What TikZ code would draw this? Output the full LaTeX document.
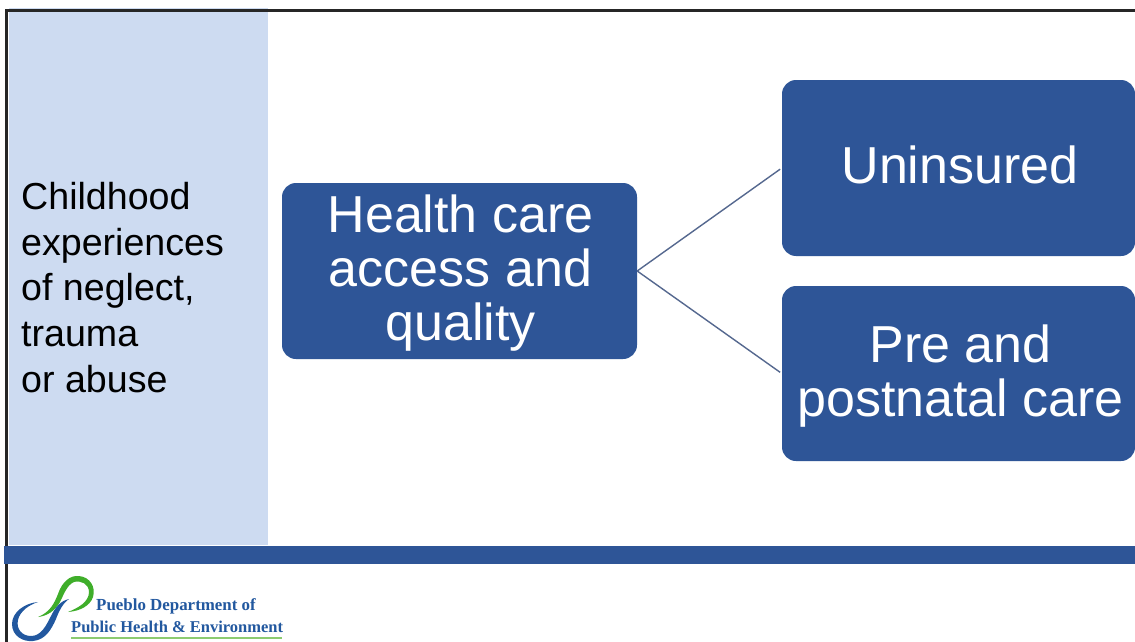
\documentclass[tikz,border=0pt]{standalone}
\usepackage{fontspec}
\setmainfont{Liberation Sans}
\newfontfamily\logofont{Liberation Serif}
\definecolor{boxblue}{HTML}{2E5597}
\definecolor{panelblue}{HTML}{CDDBF1}
\definecolor{linkgray}{HTML}{55688F}
\definecolor{logogreen}{HTML}{3FAE2A}
\definecolor{logoblue}{HTML}{22589F}
\definecolor{rulegreen}{HTML}{8CCB70}
\tikzset{
  px/.style={x=1pt,y=-1pt},
  bluebox/.style={fill=boxblue,draw=none,rounded corners=14pt,inner sep=0pt,anchor=center},
  boxtext/.style={text=white,align=center,font=\fontsize{52}{54}\selectfont,inner sep=0pt},
  linkline/.style={draw=linkgray,line width=1.4pt,shorten >=2pt},
  sidetext/.style={align=left,anchor=west,inner sep=0pt,text=black,
    font=\fontsize{37.6}{45.6}\selectfont},
  logotext/.style={anchor=west,inner sep=0pt,text=logoblue,font=\logofont\bfseries}
}
\begin{document}
\begin{tikzpicture}[px]
\useasboundingbox (0,0) rectangle (1135,642);
\fill[white] (0,0) rectangle (1135,642);
\fill[panelblue] (9,8) rectangle (268,545);
\draw[line width=2.4pt,black!85] (1135,10.5) -- (6.5,10.5) -- (6.5,642);
\fill[boxblue] (4,546) rectangle (1135,564);
\node[sidetext] (side) at (21,287.5) {Childhood\\experiences\\of neglect,\\trauma\\or abuse};
\node[bluebox,minimum width=355pt,minimum height=176pt,
  label={[boxtext,xshift=1pt,yshift=-2.5pt]center:Health care\\access and\\quality}] (main) at (459.5,271) {};
\node[bluebox,minimum width=353pt,minimum height=176pt,
  label={[boxtext,xshift=1.5pt,yshift=3pt]center:Uninsured}] (unins) at (958.5,168) {};
\node[bluebox,minimum width=353pt,minimum height=175pt,
  label={[boxtext,xshift=2pt,yshift=-3pt]center:Pre and\\postnatal care}] (pre) at (958.5,373.5) {};
\draw[linkline] (main.east) -- (unins.west);
\draw[linkline] (main.east) -- (pre.west);
% logo
\fill[logogreen] (38,617) .. controls (50,612) and (54,604) .. (58,594)
  .. controls (62,582) and (70,575) .. (79,576)
  .. controls (90,577) and (96,587) .. (93,597)
  .. controls (90,606) and (80,611) .. (68,612)
  .. controls (78,608) and (89,602) .. (89,592)
  .. controls (89,584) and (81,580) .. (74,582)
  .. controls (67,585) and (64,594) .. (60,602)
  .. controls (55,611) and (47,616) .. (38,617) -- cycle;
\fill[logoblue] (38,602) .. controls (25,603) and (12,612) .. (12,624)
  .. controls (12,636) and (23,642) .. (33,641)
  .. controls (46,640) and (52,628) .. (56,619)
  .. controls (59,611) and (63,603) .. (69,599)
  .. controls (60,601) and (55,608) .. (51,616)
  .. controls (46,626) and (41,636) .. (31,636)
  .. controls (22,636) and (16,629) .. (18,620)
  .. controls (20,611) and (29,605) .. (38,602) -- cycle;
\node[logotext,font=\logofont\bfseries\fontsize{16.9}{17}\selectfont] (dept) at (96,606.5) {Pueblo Department of};
\node[logotext,font=\logofont\bfseries\fontsize{16.5}{17}\selectfont] (pub) at (71,626.5) {Public Health \& Environment};
\fill[rulegreen] (71,636.5) rectangle (282,639);
\end{tikzpicture}
\end{document}
